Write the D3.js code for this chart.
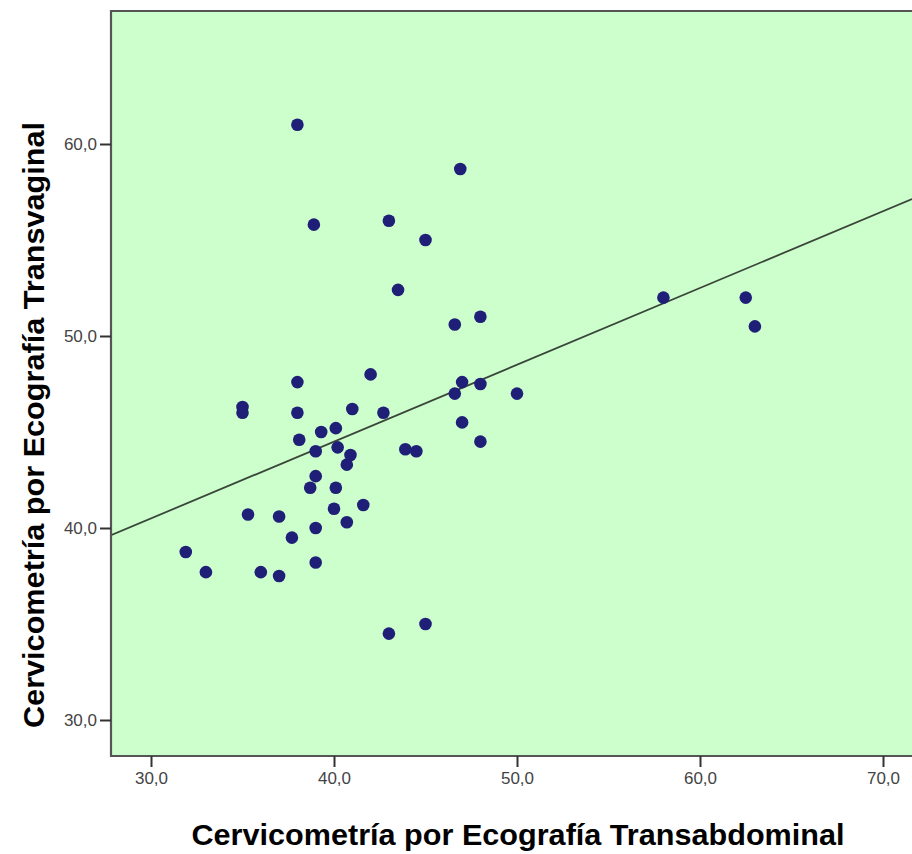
<!DOCTYPE html>
<html>
<head>
<meta charset="utf-8">
<script src="https://cdn.jsdelivr.net/npm/d3@7"></script>
<style>
  html, body { margin: 0; padding: 0; background: #ffffff; }
  svg { display: block; }
</style>
</head>
<body>
<svg id="chart" width="912" height="854"></svg>
<script>
// Data
const transabdominal = [38.0, 46.9, 38.9, 43.0, 45.0, 43.5, 46.6, 48.0, 38.0, 42.0,
  47.0, 48.0, 46.6, 35.0, 35.0, 38.0, 41.0, 42.7, 47.0, 38.1,
  39.3, 40.1, 48.0, 39.0, 40.2, 43.9, 44.5, 40.9, 40.7, 39.0,
  38.7, 40.1, 41.6, 40.0, 35.3, 37.0, 40.7, 39.0, 37.7, 31.9,
  33.0, 36.0, 37.0, 39.0, 43.0, 45.0, 58.0, 62.5, 63.0, 50.0];
const transvaginal = [61.0, 58.7, 55.8, 56.0, 55.0, 52.4, 50.6, 51.0, 47.6, 48.0,
  47.6, 47.5, 47.0, 46.3, 46.0, 46.0, 46.2, 46.0, 45.5, 44.6,
  45.0, 45.2, 44.5, 44.0, 44.2, 44.1, 44.0, 43.8, 43.3, 42.7,
  42.1, 42.1, 41.2, 41.0, 40.7, 40.6, 40.3, 40.0, 39.5, 38.75,
  37.7, 37.7, 37.5, 38.2, 34.5, 35.0, 52.0, 52.0, 50.5, 47.0];
const xTicks = [30, 40, 50, 60, 70];
const yTicks = [30, 40, 50, 60];
const fitIntercept = 28.5;
const fitSlope = 0.40;
const xTitle = "Cervicometría por Ecografía Transabdominal";
const yTitle = "Cervicometría por Ecografía Transvaginal";

const points = transabdominal.map((v, i) => ({ x: v, y: transvaginal[i] }));

const svg = d3.select("#chart");
const pLeft = 111, pTop = 11, pBottom = 756, pRight = 930;

const x = d3.scaleLinear().domain([30, 70]).range([151, 883]);
const y = d3.scaleLinear().domain([30, 60]).range([720, 144]);

svg.append("defs").append("clipPath").attr("id", "plotclip")
  .append("rect").attr("x", pLeft).attr("y", pTop).attr("width", pRight - pLeft).attr("height", pBottom - pTop);

// Plot background
svg.append("rect")
  .attr("x", pLeft).attr("y", pTop)
  .attr("width", pRight - pLeft).attr("height", pBottom - pTop)
  .attr("fill", "#ccffcc");

const plot = svg.append("g").attr("clip-path", "url(#plotclip)");

// Fit line
const x0 = x.invert(pLeft), x1 = x.invert(912);
plot.append("line")
  .attr("x1", x(x0)).attr("y1", y(fitIntercept + fitSlope * x0))
  .attr("x2", x(x1)).attr("y2", y(fitIntercept + fitSlope * x1))
  .attr("stroke", "#3a463a").attr("stroke-width", 1.8);

// Points
plot.selectAll("circle.pt").data(points).enter().append("circle")
  .attr("class", "pt")
  .attr("cx", d => x(d.x)).attr("cy", d => y(d.y))
  .attr("r", 6.3)
  .attr("fill", "#1f1f78");

// Frame (left, top, bottom)
svg.append("path")
  .attr("d", `M${pRight},${pTop}H${pLeft}V${pBottom}H${pRight}`)
  .attr("fill", "none").attr("stroke", "#555").attr("stroke-width", 2.2);

// X axis
const xAxis = d3.axisBottom(x).tickValues(xTicks)
  .tickFormat(d => d3.format(".1f")(d).replace(".", ","))
  .tickSize(11).tickPadding(5);
const gx = svg.append("g").attr("transform", `translate(0,${pBottom})`).call(xAxis);
gx.select(".domain").remove();
gx.selectAll(".tick line").attr("stroke", "#333").attr("stroke-width", 2);
gx.selectAll(".tick text")
  .attr("fill", "#444").attr("font-family", "Liberation Sans, Arial, sans-serif")
  .attr("font-size", 17);

// Y axis
const yAxis = d3.axisLeft(y).tickValues(yTicks)
  .tickFormat(d => d3.format(".1f")(d).replace(".", ","))
  .tickSize(11).tickPadding(3);
const gy = svg.append("g").attr("transform", `translate(${pLeft},0)`).call(yAxis);
gy.select(".domain").remove();
gy.selectAll(".tick line").attr("stroke", "#333").attr("stroke-width", 2);
gy.selectAll(".tick text")
  .attr("fill", "#444").attr("font-family", "Liberation Sans, Arial, sans-serif")
  .attr("font-size", 17);

// Axis titles
svg.append("text")
  .attr("x", 518).attr("y", 845)
  .attr("text-anchor", "middle")
  .attr("font-family", "Liberation Sans, Arial, sans-serif")
  .attr("font-weight", "bold").attr("font-size", 29)
  .attr("textLength", 653).attr("lengthAdjust", "spacingAndGlyphs")
  .attr("fill", "#000")
  .text(xTitle);

svg.append("text")
  .attr("transform", "translate(44,425) rotate(-90)")
  .attr("text-anchor", "middle")
  .attr("font-family", "Liberation Sans, Arial, sans-serif")
  .attr("font-weight", "bold").attr("font-size", 29)
  .attr("textLength", 606).attr("lengthAdjust", "spacingAndGlyphs")
  .attr("fill", "#000")
  .text(yTitle);
</script>
</body>
</html>
